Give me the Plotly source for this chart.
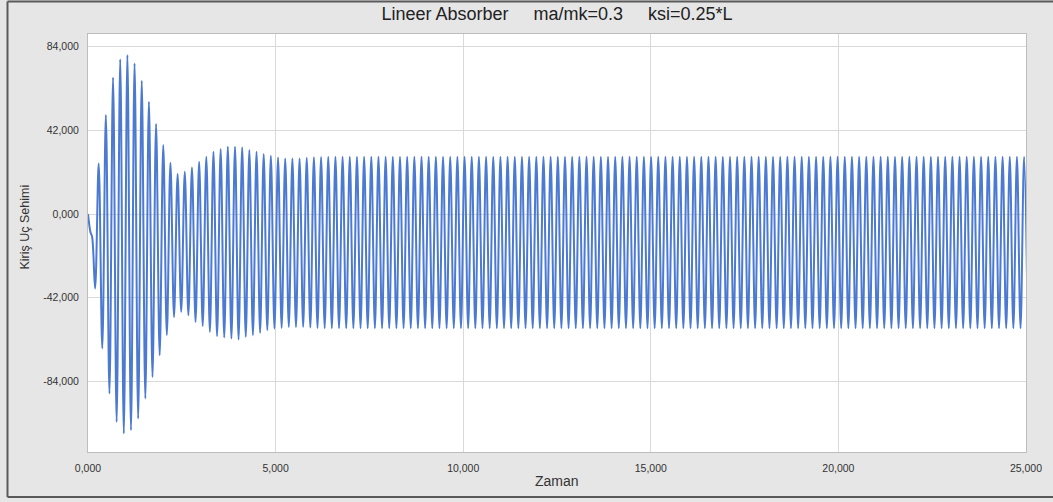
import numpy as np
import plotly.graph_objects as go

# ---------------- data ----------------
# start of the response (time in s, deflection)
start_time = [0.0, 0.065, 0.110]
start_value = [0.0, -9.0, -11.5]

# oscillation: time of first positive peak and cycle period (s)
first_peak_time = 0.285
cycle_period = 0.1912

# positive peak of each cycle
peak_values = [
    25.4, 49.7, 68.6, 77.7, 79.8, 75.7, 66.9, 56.4, 45.2, 34.6,
    25.7, 20.1, 21.2, 23.4, 26.2, 28.7, 31.3, 32.6, 33.8, 33.8,
    33.5, 32.1, 31.3, 30.1, 29.2, 28.4, 27.9, 27.9, 27.9, 28.2,
    28.5, 28.6, 28.7, 28.8, 28.8, 28.8, 28.8, 28.8, 28.8, 28.8,
    28.8, 28.8, 28.8, 28.8, 28.8, 28.8, 28.8, 28.8, 28.8, 28.8,
    28.8, 28.8, 28.8, 28.8, 28.8, 28.8, 28.8, 28.8, 28.8, 28.8,
    28.8, 28.8, 28.8, 28.8, 28.8, 28.8, 28.8, 28.8, 28.8, 28.8,
    28.8, 28.8, 28.8, 28.8, 28.8, 28.8, 28.8, 28.8, 28.8, 28.8,
    28.8, 28.8, 28.8, 28.8, 28.8, 28.8, 28.8, 28.8, 28.8, 28.8,
    28.8, 28.8, 28.8, 28.8, 28.8, 28.8, 28.8, 28.8, 28.8, 28.8,
    28.8, 28.8, 28.8, 28.8, 28.8, 28.8, 28.8, 28.8, 28.8, 28.8,
    28.8, 28.8, 28.8, 28.8, 28.8, 28.8, 28.8, 28.8, 28.8, 28.8,
    28.8, 28.8, 28.8, 28.8, 28.8, 28.8, 28.8, 28.8, 28.8, 28.8,
]

# negative trough preceding each peak (one extra at the end)
trough_values = [
    -37.4, -67.5, -90.1, -104.4, -110.2, -108.6, -102.7, -92.6, -81.8, -70.9,
    -60.8, -51.7, -49.1, -50.8, -54.2, -56.2, -59.2, -61.3, -62.0, -62.5,
    -63.0, -61.7, -60.8, -59.7, -58.3, -57.5, -57.2, -56.7, -56.7, -56.7,
    -57.0, -57.2, -57.3, -57.3, -57.3, -57.3, -57.3, -57.3, -57.3, -57.3,
    -57.3, -57.3, -57.3, -57.3, -57.3, -57.3, -57.3, -57.3, -57.3, -57.3,
    -57.3, -57.3, -57.3, -57.3, -57.3, -57.3, -57.3, -57.3, -57.3, -57.3,
    -57.3, -57.3, -57.3, -57.3, -57.3, -57.3, -57.3, -57.3, -57.3, -57.3,
    -57.3, -57.3, -57.3, -57.3, -57.3, -57.3, -57.3, -57.3, -57.3, -57.3,
    -57.3, -57.3, -57.3, -57.3, -57.3, -57.3, -57.3, -57.3, -57.3, -57.3,
    -57.3, -57.3, -57.3, -57.3, -57.3, -57.3, -57.3, -57.3, -57.3, -57.3,
    -57.3, -57.3, -57.3, -57.3, -57.3, -57.3, -57.3, -57.3, -57.3, -57.3,
    -57.3, -57.3, -57.3, -57.3, -57.3, -57.3, -57.3, -57.3, -57.3, -57.3,
    -57.3, -57.3, -57.3, -57.3, -57.3, -57.3, -57.3, -57.3, -57.3, -57.3,
    -57.3,
]

x_ticks = [0, 5, 10, 15, 20, 25]
y_ticks = [-84, -42, 0, 42, 84]

title_text = "Lineer Absorber\u00a0\u00a0\u00a0\u00a0\u00a0ma/mk=0.3\u00a0\u00a0\u00a0\u00a0\u00a0ksi=0.25*L"
x_title = "Zaman"
y_title = "Kiriş Uç Sehimi"


def fmt(v):
    # Turkish style: decimal comma, plain hyphen for negatives
    return f"{v:.3f}".replace(".", ",")


# ---------------- build the series ----------------
t = list(start_time)
y = list(start_value)
n_peaks = len(peak_values)
for k in range(len(trough_values)):
    t.append(first_peak_time + (k - 0.5) * cycle_period)
    y.append(trough_values[k])
    if k < n_peaks:
        t.append(first_peak_time + k * cycle_period)
        y.append(peak_values[k])

# ---------------- figure ----------------
W, H = 1053, 502
L, R, T, B = 88, 27, 34, 50
pw, ph = W - L - R, H - T - B


def px_x(px):
    return (px - L) / pw


def px_y(py):
    return (H - B - py) / ph


FONT = "Liberation Sans, Arial, sans-serif"
FRAME = dict(color="#5a5a5a", width=2)

fig = go.Figure()
fig.add_trace(go.Scatter(
    x=t, y=y, mode="lines",
    line=dict(color="#4c7ad2", width=2, shape="spline", smoothing=1.0),
    hoverinfo="skip", showlegend=False,
))

fig.update_layout(
    width=W, height=H,
    margin=dict(l=L, r=R, t=T, b=B, pad=0),
    paper_bgcolor="#e6e6e6",
    plot_bgcolor="#ffffff",
    font=dict(family=FONT, size=11, color="#333333"),
    title=dict(
        text=title_text, x=0.5, xref="paper", xanchor="center",
        y=1 - 14 / H, yref="container", yanchor="middle",
        font=dict(family=FONT, size=18, color="#222222"),
    ),
    xaxis=dict(
        range=[0, 25], tickvals=x_ticks, ticktext=[fmt(v) for v in x_ticks],
        showgrid=True, gridcolor="#d9d9d9", gridwidth=1,
        zeroline=False, showline=True, linecolor="#bdbdbd", linewidth=1, mirror=True,
        ticks="outside", ticklen=6, tickcolor="rgba(0,0,0,0)",
        tickfont=dict(family=FONT, size=10.5, color="#333333"),
    ),
    yaxis=dict(
        range=[-119.47, 90.38], tickvals=y_ticks, ticktext=[fmt(v) for v in y_ticks],
        showgrid=True, gridcolor="#d9d9d9", gridwidth=1,
        zeroline=False, showline=True, linecolor="#bdbdbd", linewidth=1, mirror=True,
        ticks="outside", ticklen=6, tickcolor="rgba(0,0,0,0)",
        tickfont=dict(family=FONT, size=10.5, color="#333333"),
    ),
    annotations=[
        dict(text=y_title, x=px_x(25), y=px_y(227.5), xref="paper", yref="paper",
             textangle=-90, showarrow=False, xanchor="center", yanchor="middle",
             font=dict(family=FONT, size=12.5, color="#333333")),
        dict(text=x_title, x=0.5, y=px_y(481), xref="paper", yref="paper",
             showarrow=False, xanchor="center", yanchor="middle",
             font=dict(family=FONT, size=14, color="#333333")),
    ],
    shapes=[
        # outer frame: left, top, bottom edges
        dict(type="line", xref="paper", yref="paper",
             x0=px_x(7.5), x1=px_x(7.5), y0=px_y(497), y1=px_y(1.5), line=FRAME),
        dict(type="line", xref="paper", yref="paper",
             x0=px_x(7.5), x1=px_x(1053), y0=px_y(1.5), y1=px_y(1.5), line=FRAME),
        dict(type="line", xref="paper", yref="paper",
             x0=px_x(7.5), x1=px_x(1053), y0=px_y(497), y1=px_y(497), line=FRAME),
    ],
)

fig.write_html("out.html")
